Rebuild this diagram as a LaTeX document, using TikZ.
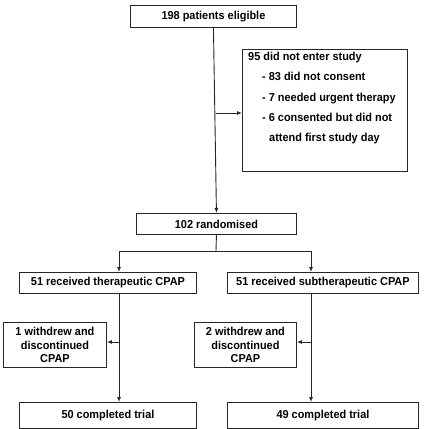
\documentclass[tikz,border=0pt]{standalone}
\usepackage{fontspec}
\setmainfont{Liberation Sans}[FakeStretch=0.95]
\usetikzlibrary{arrows.meta}
\begin{document}
\begin{tikzpicture}[x=1pt,y=-1pt,
  box/.style={draw=black!85, line width=0.9pt, inner sep=0pt, anchor=north west, align=center},
  lbl/.style={font=\fontsize{11.5}{13.5}\selectfont\bfseries},
  conn/.style={draw=black!85, line width=0.9pt},
  arr/.style={conn, -{Latex[length=5pt,width=4pt]}}]
\useasboundingbox (0,0) rectangle (424,429);
\node[box,lbl,minimum width=166pt,minimum height=22pt] (elig) at (130,5) {198 patients eligible};
\node[box,minimum width=165pt,minimum height=122pt] (excl) at (242,49) {};
\node[lbl,anchor=north west,align=left,inner sep=0pt,font=\fontsize{11.5}{20.3}\selectfont\bfseries] (excltxt) at (248,52)
  {95 did not enter study\\
   \hspace*{14pt}- 83 did not consent\\
   \hspace*{14pt}- 7 needed urgent therapy\\
   \hspace*{14pt}- 6 consented but did not\\
   \hspace*{21pt}attend first study day};
\node[box,lbl,minimum width=160pt,minimum height=21pt] (rand) at (136,213) {102 randomised};
\node[box,lbl,minimum width=177pt,minimum height=21pt] (ther) at (19,272) {51 received therapeutic CPAP};
\node[box,lbl,minimum width=191pt,minimum height=21pt] (sub) at (227,272) {51 received subtherapeutic CPAP};
\node[box,lbl,minimum width=103pt,minimum height=45pt] (w1) at (3,322) {1 withdrew and\\discontinued\\CPAP};
\node[box,lbl,minimum width=102pt,minimum height=45pt] (w2) at (194,322) {2 withdrew and\\discontinued\\CPAP};
\node[box,lbl,minimum width=177pt,minimum height=26pt] (done1) at (19,402) {50 completed trial};
\node[box,lbl,minimum width=191pt,minimum height=26pt] (done2) at (227,402) {49 completed trial};
% connectors
\coordinate (b1) at (216,113);
\draw[arr] (elig.south) -- (rand.north);
\draw[arr] (b1) -- (b1 -| excl.west);
\coordinate (split) at (216,251);
\coordinate (tl) at (119,251);
\coordinate (tr) at (311,251);
\draw[conn] (rand.south) -- (split);
\draw[conn] (tl) -- (tr);
\draw[arr] (tl) -- (tl |- ther.north);
\draw[arr] (tr) -- (tr |- sub.north);
\coordinate (l1) at (119,293);
\coordinate (r1) at (311,293);
\coordinate (l2) at (119,342);
\coordinate (r2) at (311,342);
\draw[arr] (l1) -- (l1 |- done1.north);
\draw[arr] (r1) -- (r1 |- done2.north);
\draw[arr] (l2) -- (l2 -| w1.east);
\draw[arr] (r2) -- (r2 -| w2.east);
\end{tikzpicture}
\end{document}
